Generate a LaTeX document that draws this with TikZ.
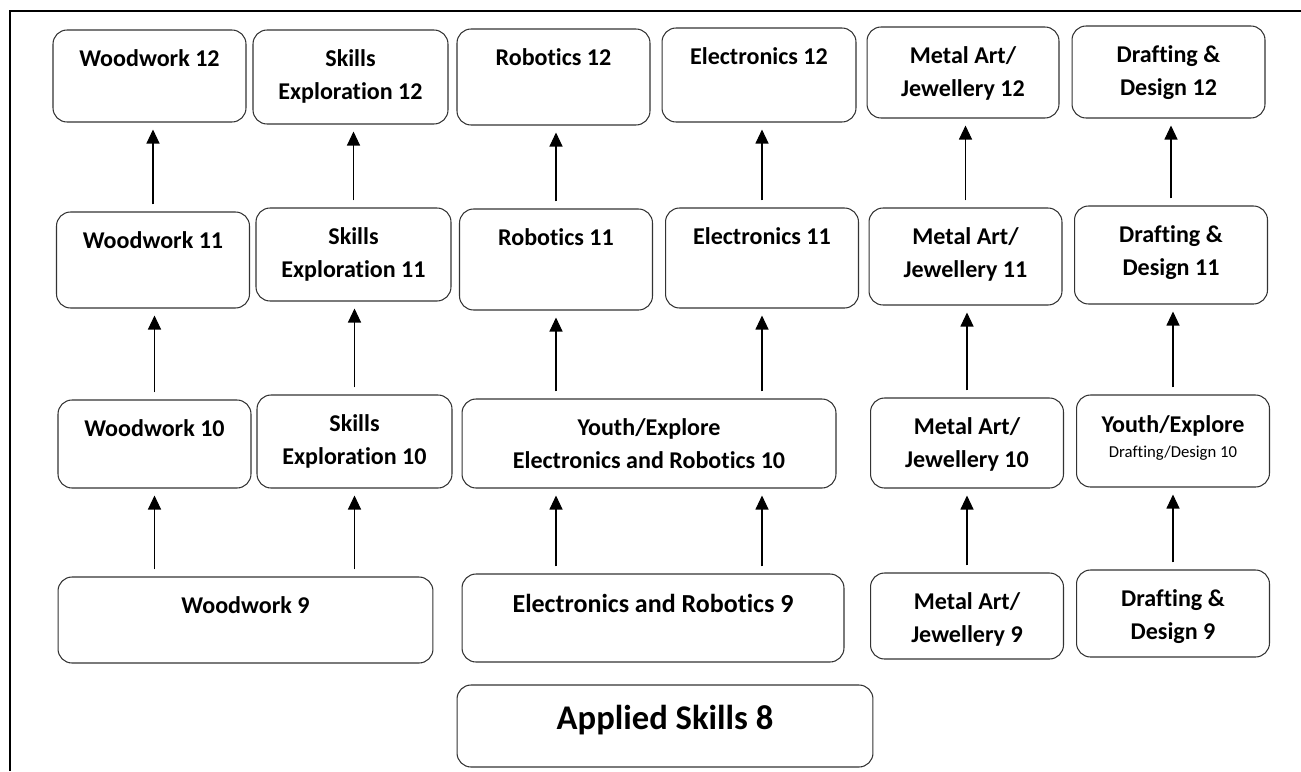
\documentclass[tikz,border=0pt]{standalone}
\usepackage{fontspec}
\setmainfont{Carlito}[Ligatures=CommonOff]
\usepackage{tikz}
\usetikzlibrary{arrows.meta,positioning,calc}
\tikzstyle{course} = [rectangle, rounded corners=0.28cm, draw=black!80, line width=0.6pt, inner xsep=0pt, inner ysep=0pt, minimum width=3.86cm, align=center, text height=0.72cm, font=\fontsize{13.7}{19}\selectfont\bfseries]
\tikzstyle{twoline} = [text height=1.39cm]
\tikzstyle{arrow} = [line width=0.6pt, -{Triangle[length=0.28cm,width=0.26cm]}, shorten <=0.14cm, shorten >=0.14cm]

\begin{document}
\begin{tikzpicture}[x=0.02cm, y=-0.02cm]
\useasboundingbox (0,0) rectangle (1301,771);

% Cadre
\draw [line width=1.7pt] (10,771) -- (10,11) -- (1301,11);

% Niveau 12
\node (wood12) [course, text depth=1.12cm] at (149.5,76) {Woodwork 12};
\node (skill12) [course, twoline, text depth=0.49cm, minimum width=3.9cm] at (350.5,77) {Skills\\Exploration 12};
\node (robo12) [course, text depth=1.20cm] at (553.5,77) {Robotics 12};
\node (elec12) [course, text depth=1.16cm, minimum width=3.88cm] at (759,75) {Electronics 12};
\node (metal12) [course, twoline, text depth=0.43cm, minimum width=3.84cm] at (963,72.5) {Metal Art/\\Jewellery 12};
\node (draft12) [course, twoline, text depth=0.45cm] at (1168.5,72) {Drafting \&\\Design 12};

% Niveau 11
\node (wood11) [course, text depth=1.20cm] at (153,260) {Woodwork 11};
\node (skill11) [course, twoline, text depth=0.47cm, minimum width=3.9cm] at (353.5,254.5) {Skills\\Exploration 11};
\node (robo11) [course, text depth=1.30cm] at (556,259.5) {Robotics 11};
\node (elec11) [course, text depth=1.28cm] at (762,258) {Electronics 11};
\node (metal11) [course, twoline, text depth=0.55cm] at (965.5,256.5) {Metal Art/\\Jewellery 11};
\node (draft11) [course, twoline, text depth=0.57cm] at (1171,255) {Drafting \&\\Design 11};

% Niveau 10
\node (wood10) [course, text depth=1.04cm] at (154.5,444) {Woodwork 10};
\node (skill10) [course, twoline, text depth=0.47cm, minimum width=3.9cm] at (354.5,441.5) {Skills\\Exploration 10};
\node (yer10) [course, twoline, text depth=0.39cm, minimum width=7.48cm] at (649,443.5) {Youth/Explore\\Electronics and Robotics 10};
\node (metal10) [course, twoline, text depth=0.41cm] at (967,443) {Metal Art/\\Jewellery 10};
\node (yed10) [course, text height=1.24cm, text depth=0.60cm] at (1173,441) {Youth/Explore\\[-4.8pt]{\fontsize{9.5}{11}\selectfont\mdseries Drafting/Design 10}};

% Niveau 9
\node (wood9) [course, text depth=1.00cm, minimum width=7.5cm] at (245.5,620) {Woodwork 9};
\node (er9) [course, text height=0.76cm, text depth=1.00cm, minimum width=7.64cm, font=\fontsize{14.8}{20}\selectfont\bfseries] at (653,618) {Electronics and Robotics 9};
\node (metal9) [course, twoline, text depth=0.33cm] at (967,616) {Metal Art/\\Jewellery 9};
\node (draft9) [course, twoline, text depth=0.35cm] at (1173,613.5) {Drafting \&\\Design 9};

% Niveau 8
\node (applied8) [course, text height=0.88cm, text depth=0.76cm, minimum width=8.32cm, font=\fontsize{19.7}{24}\selectfont\bfseries] at (665,726) {Applied Skills 8};

% Flèches 11 -> 12
\draw [arrow] (wood11.north) -- (wood11.north |- wood12.south);
\draw [arrow] (skill11.north) -- (skill11.north |- skill12.south);
\draw [arrow] (robo11.north) -- (robo11.north |- robo12.south);
\draw [arrow] (elec11.north) -- (elec11.north |- elec12.south);
\draw [arrow] (metal11.north) -- (metal11.north |- metal12.south);
\draw [arrow] (draft11.north) -- (draft11.north |- draft12.south);

% Flèches 10 -> 11
\draw [arrow] (wood10.north) -- (wood10.north |- wood11.south);
\draw [arrow] (skill10.north) -- (skill10.north |- skill11.south);
\draw [arrow] (robo11.south |- yer10.north) -- (robo11.south);
\draw [arrow] (elec11.south |- yer10.north) -- (elec11.south);
\draw [arrow] (metal10.north) -- (metal10.north |- metal11.south);
\draw [arrow] (yed10.north) -- (yed10.north |- draft11.south);

% Flèches 9 -> 10
\draw [arrow] (wood10.south |- wood9.north) -- (wood10.south);
\draw [arrow] (skill10.south |- wood9.north) -- (skill10.south);
\draw [arrow] (robo11.south |- er9.north) -- (robo11.south |- yer10.south);
\draw [arrow] (elec11.south |- er9.north) -- (elec11.south |- yer10.south);
\draw [arrow] (metal9.north) -- (metal9.north |- metal10.south);
\draw [arrow] (draft9.north) -- (draft9.north |- yed10.south);

\end{tikzpicture}
\end{document}
